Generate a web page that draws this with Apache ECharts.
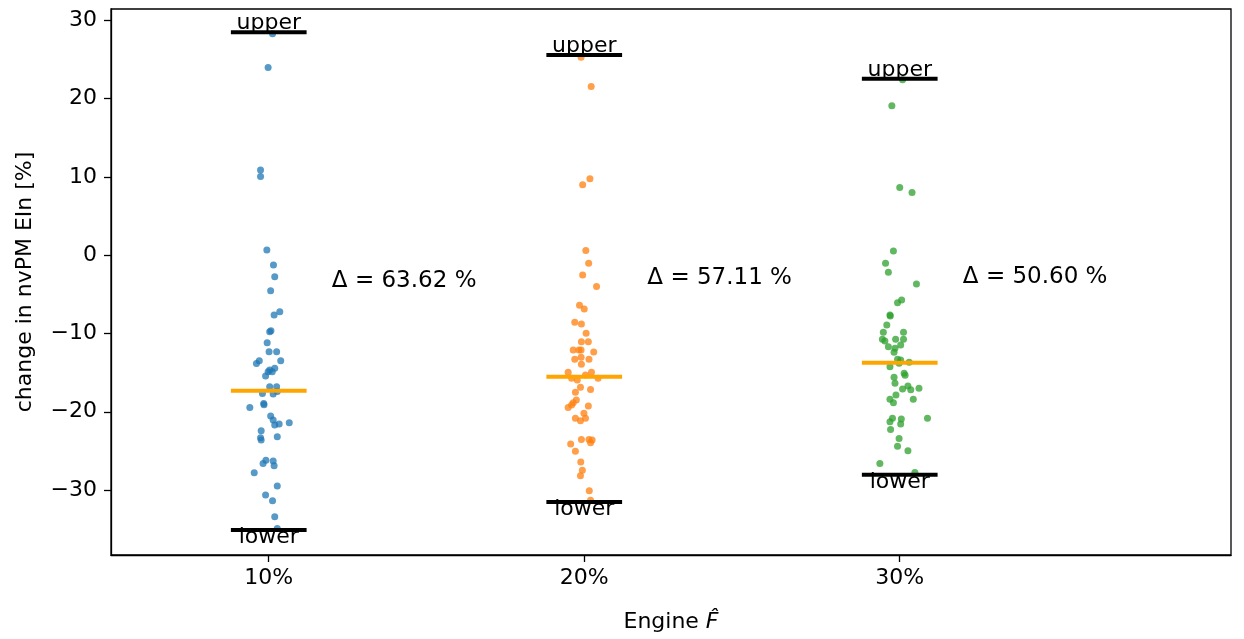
<!DOCTYPE html>
<html>
<head>
<meta charset="utf-8">
<script src="https://cdn.jsdelivr.net/npm/echarts@6/dist/echarts.min.js"></script>
<style>
    html, body { margin: 0; padding: 0; background: #fff; }
    #chart { width: 1244px; height: 639px; }
</style>
</head>
<body>
<div id="chart"></div>
<script>
// Categories and tick labels
const categories = ['10%', '20%', '30%'];
const yTicks = [-30, -20, -10, 0, 10, 20, 30];
const colors = ['#1f77b4', '#ff7f0e', '#2ca02c'];

// Strip values (change in nvPM EIn, %) and horizontal jitter
const values10 = [28.3, 24.0, 10.9, 10.05, 0.68, -1.24, -2.74, -4.53, -7.63, -7.21, -9.77, -9.65, -11.18, -12.33, -12.33,
    -13.48, -13.82, -13.48, -14.67, -14.88, -14.45, -15.43, -14.88, -16.8, -16.8, -17.65, -17.74, -17.4, -18.93, -19.1,
    -19.44, -20.55, -21.06, -21.7, -21.57, -21.4, -22.43, -23.32, -23.6, -23.2, -26.18, -26.6, -26.3, -26.9, -27.8,
    -29.5, -30.65, -31.38, -33.4, -34.9];
const jitter10 = [0.012, -0.002, -0.026, -0.026, -0.006, 0.015, 0.019, 0.006, 0.017, 0.035, 0.003, 0.007, -0.005, 0.001, 0.025,
    -0.030, -0.039, 0.038, 0.003, -0.002, 0.019, -0.010, 0.011, 0.003, 0.025, -0.020, 0.014, 0.027, -0.016, -0.015,
    -0.060, 0.006, 0.014, 0.019, 0.033, 0.065, -0.024, -0.026, -0.024, 0.027, -0.009, -0.018, 0.014, 0.017, -0.046,
    0.027, -0.010, 0.012, 0.019, 0.027];

const values20 = [25.3, 21.56, 9.76, 8.99, 0.59, -1.03, -2.52, -4.01, -6.4, -6.87, -8.57, -8.79, -9.98, -11.05, -11.05,
    -12.1, -12.1, -12.1, -12.37, -13.04, -13.3, -13.3, -13.94, -14.96, -14.96, -15.3, -15.73, -15.73, -15.95, -16.88,
    -17.14, -17.52, -18.5, -18.85, -19.14, -19.44, -19.27, -20.2, -20.84, -20.84, -21.15, -23.53, -23.53, -23.62, -23.96,
    -24.13, -25.03, -26.43, -27.46, -28.18, -30.1, -31.3];
const jitter20 = [-0.010, 0.022, 0.018, -0.005, 0.005, 0.014, -0.005, 0.039, -0.015, 0.0, -0.030, -0.009, 0.006, -0.009, 0.013,
    -0.035, -0.017, -0.010, 0.030, -0.010, -0.030, 0.015, -0.009, -0.051, 0.023, 0.004, 0.044, -0.040, -0.022, -0.012,
    0.020, -0.028, -0.025, -0.035, -0.040, -0.051, 0.013, -0.001, -0.028, 0.004, -0.012, -0.009, 0.015, 0.025, 0.020,
    -0.043, -0.028, -0.011, -0.006, -0.012, 0.016, 0.020];

const values30 = [22.42, 19.09, 8.65, 8.0, 0.55, -1.02, -2.17, -3.67, -6.06, -5.72, -7.63, -7.76, -8.91, -9.85, -9.85,
    -10.74, -10.96, -10.74, -10.74, -11.47, -11.69, -11.9, -12.4, -13.3, -13.4, -13.8, -13.68, -14.25, -15.09, -15.35,
    -15.6, -16.37, -16.7, -17.1, -17.0, -17.2, -17.86, -18.41, -18.85, -18.41, -20.84, -20.93, -21.28, -21.57, -20.84,
    -22.25, -23.4, -24.39, -24.99, -26.6, -27.75];
const jitter30 = [0.009, -0.025, 0.0, 0.039, -0.020, -0.045, -0.036, 0.053, -0.007, 0.006, -0.031, -0.030, -0.041, 0.012, -0.052,
    -0.055, -0.047, -0.013, 0.012, 0.003, -0.036, -0.015, -0.018, -0.007, 0.003, -0.002, 0.030, -0.031, 0.014, 0.017,
    -0.018, -0.015, 0.026, 0.009, 0.061, 0.035, -0.012, -0.031, -0.020, 0.043, -0.023, 0.005, -0.031, 0.003, 0.088,
    -0.029, -0.002, -0.007, 0.026, -0.063, 0.048];

// Summary lines per category
const upperValues = [28.5, 25.58, 22.54];
const lowerValues = [-35.12, -31.53, -28.06];
const medianValues = [-17.3, -15.52, -13.73];
const deltaLabels = ['63.62', '57.11', '50.60'];

document.addEventListener('DOMContentLoaded', function() {
    initializeStripChart();
});

function initializeStripChart() {
    const chartDom = document.getElementById('chart');
    const myChart = echarts.init(chartDom, null, { renderer: 'canvas' });

    const font = 'DejaVu Sans';
    const halfWidth = 0.12;
    const strips = [[values10, jitter10], [values20, jitter20], [values30, jitter30]];

    const series = [];

    // Jittered points
    strips.forEach(function(strip, i) {
        const vals = strip[0];
        const jit = strip[1];
        series.push({
            type: 'scatter',
            name: categories[i],
            data: vals.map(function(v, k) { return [i + jit[k], v]; }),
            symbolSize: 7,
            itemStyle: { color: colors[i], opacity: 0.75 },
            z: 2
        });
    });

    // Horizontal bars: upper, lower (black) and median (orange)
    function hLine(i, v, color) {
        return {
            type: 'line',
            data: [[i - halfWidth, v], [i + halfWidth, v]],
            symbol: 'none',
            lineStyle: { color: color, width: 4, cap: 'butt' },
            silent: true,
            z: 4
        };
    }
    categories.forEach(function(c, i) {
        series.push(hLine(i, upperValues[i], '#000'));
        series.push(hLine(i, lowerValues[i], '#000'));
        series.push(hLine(i, medianValues[i], '#ffa500'));
    });

    function textLabel(position, distance, size) {
        return {
            show: true, position: position, distance: distance, formatter: '{b}',
            color: '#000', opacity: 1, textBorderWidth: 0,
            fontFamily: font, fontSize: size
        };
    }

    // Text labels
    series.push({
        type: 'scatter',
        symbolSize: 0,
        silent: true,
        z: 5,
        data: upperValues.map(function(v, i) { return { value: [i, v], name: 'upper' }; }),
        label: textLabel('top', -2, 22)
    });
    series.push({
        type: 'scatter',
        symbolSize: 0,
        silent: true,
        z: 5,
        data: lowerValues.map(function(v, i) { return { value: [i, v], name: 'lower' }; }),
        label: textLabel('bottom', -4, 22)
    });
    series.push({
        type: 'scatter',
        symbolSize: 0,
        silent: true,
        z: 5,
        data: deltaLabels.map(function(d, i) {
            return { value: [i + 0.2, (upperValues[i] + lowerValues[i]) / 2], name: '\u0394 = ' + d + ' %' };
        }),
        label: textLabel('right', 0, 23)
    });

    const option = {
        backgroundColor: '#fff',
        animation: false,
        grid: {
            left: 111,
            right: 13,
            top: 9,
            bottom: 84,
            show: true,
            borderColor: '#000',
            borderWidth: 1.3
        },
        xAxis: {
            type: 'value',
            min: -0.5,
            max: 3.05,
            name: 'Engine {f|F\u0302}',
            nameLocation: 'middle',
            nameGap: 56,
            nameTextStyle: {
                color: '#000', fontFamily: font, fontSize: 22,
                rich: { f: { fontFamily: font, fontSize: 22, fontStyle: 'italic', color: '#000' } }
            },
            splitLine: { show: false },
            axisLine: { onZero: false, lineStyle: { color: '#000', width: 1.3 } },
            axisTick: { show: true, length: 7, customValues: [0, 1, 2], lineStyle: { color: '#000', width: 1.3 } },
            axisLabel: {
                customValues: [0, 1, 2],
                formatter: function(v) { return categories[Math.round(v)]; },
                margin: 12,
                color: '#000', fontFamily: font, fontSize: 22
            }
        },
        yAxis: {
            type: 'value',
            min: -38.3,
            max: 31.46,
            name: 'change in nvPM EIn [%]',
            nameLocation: 'middle',
            nameGap: 75,
            nameTextStyle: { color: '#000', fontFamily: font, fontSize: 22 },
            splitLine: { show: false },
            axisLine: { show: true, onZero: false, lineStyle: { color: '#000', width: 1.3 } },
            axisTick: { show: true, length: 7, customValues: yTicks, lineStyle: { color: '#000', width: 1.3 } },
            axisLabel: {
                customValues: yTicks,
                formatter: function(v) { return v < 0 ? '\u2212' + Math.abs(v) : String(v); },
                margin: 14,
                color: '#000', fontFamily: font, fontSize: 22
            }
        },
        series: series
    };

    myChart.setOption(option);

    window.addEventListener('resize', function() {
        myChart.resize();
    });
}
</script>
</body>
</html>
